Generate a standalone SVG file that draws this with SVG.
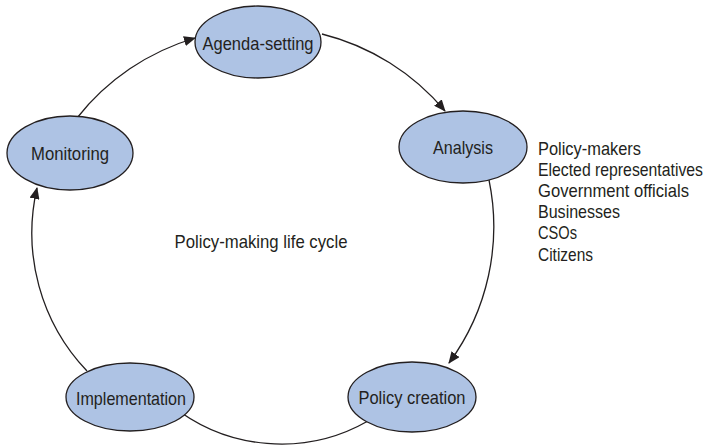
<svg xmlns="http://www.w3.org/2000/svg" width="707" height="448" viewBox="0 0 707 448">
  <style>
    .node ellipse { fill: #aec3e4; stroke: #231f20; stroke-width: 1.3; }
    text { font-family: "Liberation Sans", Arial, sans-serif; font-size: 18.5px; fill: #231f20; }
    .lbl { text-anchor: middle; }
    .conn path { fill: none; stroke: #231f20; stroke-width: 1.3; }
  </style>
  <defs>
    <marker id="arrow" viewBox="0 0 12 10" refX="11" refY="5" markerWidth="12" markerHeight="10" markerUnits="userSpaceOnUse" orient="auto">
      <path d="M0,0 L12,5 L0,10 Z" fill="#231f20"/>
    </marker>
  </defs>

  <!-- cycle connectors -->
  <g id="connectors" class="conn">
    <path d="M77,118 A235,235 0 0 1 195,38" marker-end="url(#arrow)"/>
    <path d="M322,34 A235,235 0 0 1 445,111" marker-end="url(#arrow)"/>
    <path d="M489,180 A230,230 0 0 1 449,363" marker-end="url(#arrow)"/>
    <path d="M368,421 A175,175 0 0 1 171,405" marker-end="url(#arrow)"/>
    <path d="M87,371 A200,200 0 0 1 37,188" marker-end="url(#arrow)"/>
  </g>

  <!-- condensed lettering: glyphs squeezed to the set widths -->
  <g id="agenda-setting" class="node">
    <ellipse cx="258" cy="42" rx="63" ry="36"/>
    <text class="lbl" x="258" y="50" textLength="111" lengthAdjust="spacingAndGlyphs">Agenda-setting</text>
  </g>
  <g id="analysis" class="node">
    <ellipse cx="463" cy="147" rx="64" ry="36"/>
    <text class="lbl" x="463" y="154" textLength="60" lengthAdjust="spacingAndGlyphs">Analysis</text>
  </g>
  <g id="policy-creation" class="node">
    <ellipse cx="412" cy="397" rx="64" ry="35"/>
    <text class="lbl" x="412" y="404" textLength="107" lengthAdjust="spacingAndGlyphs">Policy creation</text>
  </g>
  <g id="implementation" class="node">
    <ellipse cx="130" cy="397" rx="64" ry="34"/>
    <text class="lbl" x="131" y="405" textLength="110" lengthAdjust="spacingAndGlyphs">Implementation</text>
  </g>
  <g id="monitoring" class="node">
    <ellipse cx="70" cy="153" rx="63" ry="37"/>
    <text class="lbl" x="70" y="160" textLength="78" lengthAdjust="spacingAndGlyphs">Monitoring</text>
  </g>

  <g id="cycle-title">
    <text class="lbl" x="261" y="248" textLength="173" lengthAdjust="spacingAndGlyphs">Policy-making life cycle</text>
  </g>

  <g id="stakeholders">
    <text x="538" y="155" textLength="103" lengthAdjust="spacingAndGlyphs">Policy-makers</text>
    <text x="538" y="176" textLength="165" lengthAdjust="spacingAndGlyphs">Elected representatives</text>
    <text x="538" y="197" textLength="151" lengthAdjust="spacingAndGlyphs">Government officials</text>
    <text x="538" y="218" textLength="82" lengthAdjust="spacingAndGlyphs">Businesses</text>
    <text x="538" y="239" textLength="39" lengthAdjust="spacingAndGlyphs">CSOs</text>
    <text x="538" y="261" textLength="55" lengthAdjust="spacingAndGlyphs">Citizens</text>
  </g>
</svg>
